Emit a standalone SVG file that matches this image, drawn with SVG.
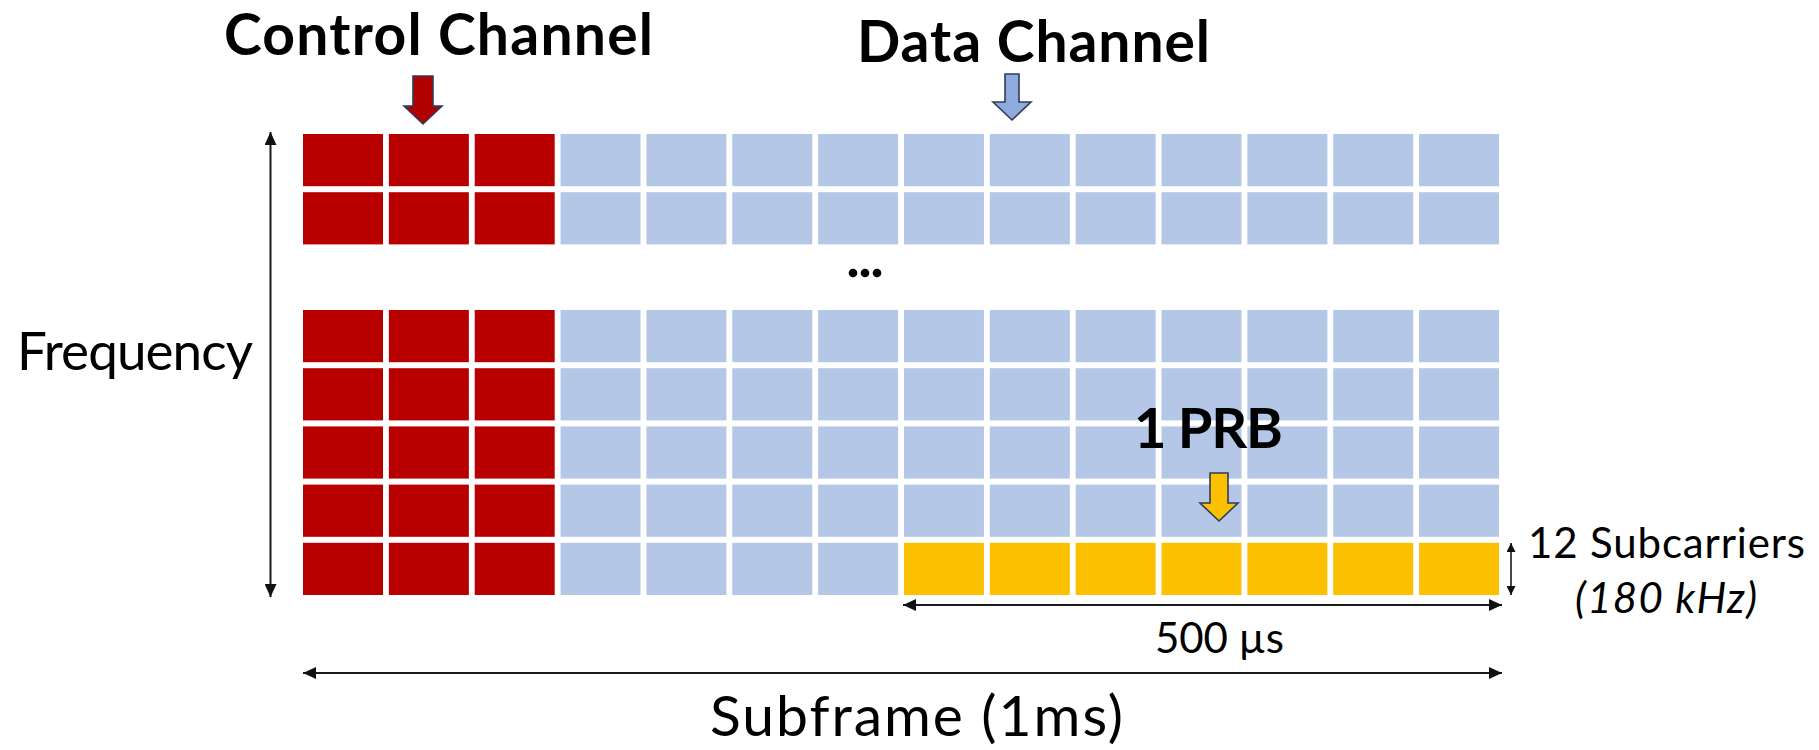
<svg xmlns="http://www.w3.org/2000/svg" width="1819" height="750" viewBox="0 0 1819 750">
  <style>
    .ctrl { fill: #B80000; }
    .data { fill: #B4C7E7; }
    .prb  { fill: #FBC000; }
    .lbl  { font-family: Lato, "Liberation Sans", sans-serif; fill: #000; }
    .title { font-weight: bold; font-size: 57px; }
    .axis { stroke: #1a1a1a; stroke-width: 2; fill: none; }
    .block { stroke: #2F3B5A; stroke-width: 1.6; stroke-linejoin: miter; }
  </style>
  <defs>
    <marker id="head" viewBox="0 0 13 12" refX="13" refY="6" markerWidth="13" markerHeight="12" markerUnits="userSpaceOnUse" orient="auto-start-reverse">
      <path d="M0,0 L13,6 L0,12 Z" fill="#111"/>
    </marker>
    <marker id="headSmall" viewBox="0 0 9 9" refX="9" refY="4.5" markerWidth="9" markerHeight="9" markerUnits="userSpaceOnUse" orient="auto-start-reverse">
      <path d="M0,0 L9,4.5 L0,9 Z" fill="#111"/>
    </marker>
    <!-- one full resource-grid row: 3 control symbols + 11 data symbols -->
    <g id="gridRow">
      <rect class="ctrl" x="303" y="0" width="80" height="52.2"/>
      <rect class="ctrl" x="388.85" y="0" width="80" height="52.2"/>
      <rect class="ctrl" x="474.7" y="0" width="80" height="52.2"/>
      <rect class="data" x="560.55" y="0" width="80" height="52.2"/>
      <rect class="data" x="646.4" y="0" width="80" height="52.2"/>
      <rect class="data" x="732.25" y="0" width="80" height="52.2"/>
      <rect class="data" x="818.1" y="0" width="80" height="52.2"/>
      <rect class="data" x="903.95" y="0" width="80" height="52.2"/>
      <rect class="data" x="989.8" y="0" width="80" height="52.2"/>
      <rect class="data" x="1075.65" y="0" width="80" height="52.2"/>
      <rect class="data" x="1161.5" y="0" width="80" height="52.2"/>
      <rect class="data" x="1247.35" y="0" width="80" height="52.2"/>
      <rect class="data" x="1333.2" y="0" width="80" height="52.2"/>
      <rect class="data" x="1419.05" y="0" width="80" height="52.2"/>
    </g>
  </defs>

  <rect width="1819" height="750" fill="#fff"/>

  <!-- resource grid -->
  <g id="grid">
    <use href="#gridRow" y="134"/>
    <use href="#gridRow" y="192.2"/>
    <use href="#gridRow" y="310"/>
    <use href="#gridRow" y="368.2"/>
    <use href="#gridRow" y="426.4"/>
    <use href="#gridRow" y="484.6"/>
    <!-- bottom row: control, data, then one PRB over 7 symbols -->
    <g id="bottom-row">
      <rect class="ctrl" x="303" y="542.8" width="80" height="52.2"/>
      <rect class="ctrl" x="388.85" y="542.8" width="80" height="52.2"/>
      <rect class="ctrl" x="474.7" y="542.8" width="80" height="52.2"/>
      <rect class="data" x="560.55" y="542.8" width="80" height="52.2"/>
      <rect class="data" x="646.4" y="542.8" width="80" height="52.2"/>
      <rect class="data" x="732.25" y="542.8" width="80" height="52.2"/>
      <rect class="data" x="818.1" y="542.8" width="80" height="52.2"/>
    </g>
    <g id="prb-block">
      <rect class="prb" x="903.95" y="542.8" width="80" height="52.2"/>
      <rect class="prb" x="989.8" y="542.8" width="80" height="52.2"/>
      <rect class="prb" x="1075.65" y="542.8" width="80" height="52.2"/>
      <rect class="prb" x="1161.5" y="542.8" width="80" height="52.2"/>
      <rect class="prb" x="1247.35" y="542.8" width="80" height="52.2"/>
      <rect class="prb" x="1333.2" y="542.8" width="80" height="52.2"/>
      <rect class="prb" x="1419.05" y="542.8" width="80" height="52.2"/>
    </g>
    <!-- omitted rows -->
    <g id="ellipsis" fill="#000">
      <circle cx="853" cy="273" r="4.3"/>
      <circle cx="865" cy="273" r="4.3"/>
      <circle cx="877" cy="273" r="4.3"/>
    </g>
  </g>

  <!-- labels with block arrows -->
  <g id="control-channel">
    <text class="lbl title" x="224" y="55" textLength="429">Control Channel</text>
    <path class="block" fill="#B00000" d="M413,76 H433 V106 H442 L423,124 L404,106 H413 Z"/>
  </g>
  <g id="data-channel">
    <text class="lbl title" x="857" y="62" textLength="353">Data Channel</text>
    <path class="block" fill="#8FAADC" d="M1005,74 H1019 V102 H1031 L1012,120 L993,102 H1005 Z"/>
  </g>
  <g id="prb-label">
    <text class="lbl" x="1134" y="448" font-size="56" font-weight="bold" textLength="149">1 PRB</text>
    <path class="block" fill="#FBC000" d="M1210,473 H1228 V503 H1238 L1219,521 L1200,503 H1210 Z"/>
  </g>

  <!-- axes and dimension arrows -->
  <g id="connectors" class="axis">
    <line x1="270.5" y1="132" x2="270.5" y2="597" marker-start="url(#head)" marker-end="url(#head)"/>
    <line x1="903" y1="605" x2="1502" y2="605" marker-start="url(#head)" marker-end="url(#head)"/>
    <line x1="303" y1="673" x2="1502" y2="673" marker-start="url(#head)" marker-end="url(#head)"/>
    <line x1="1511" y1="543" x2="1511" y2="595" stroke-width="1.6" marker-start="url(#headSmall)" marker-end="url(#headSmall)"/>
  </g>

  <g id="axis-labels">
    <text class="lbl" x="17" y="370" font-size="53" textLength="236">Frequency</text>
    <text class="lbl" x="710" y="736" font-size="57" textLength="413">Subframe (1ms)</text>
    <text class="lbl" x="1155" y="653" font-size="42" textLength="129">500 µs</text>
    <text class="lbl" x="1528" y="558" font-size="42" textLength="277">12 Subcarriers</text>
    <text class="lbl" x="1575" y="613" font-size="42" font-style="italic" textLength="182">(180 kHz)</text>
  </g>
</svg>
